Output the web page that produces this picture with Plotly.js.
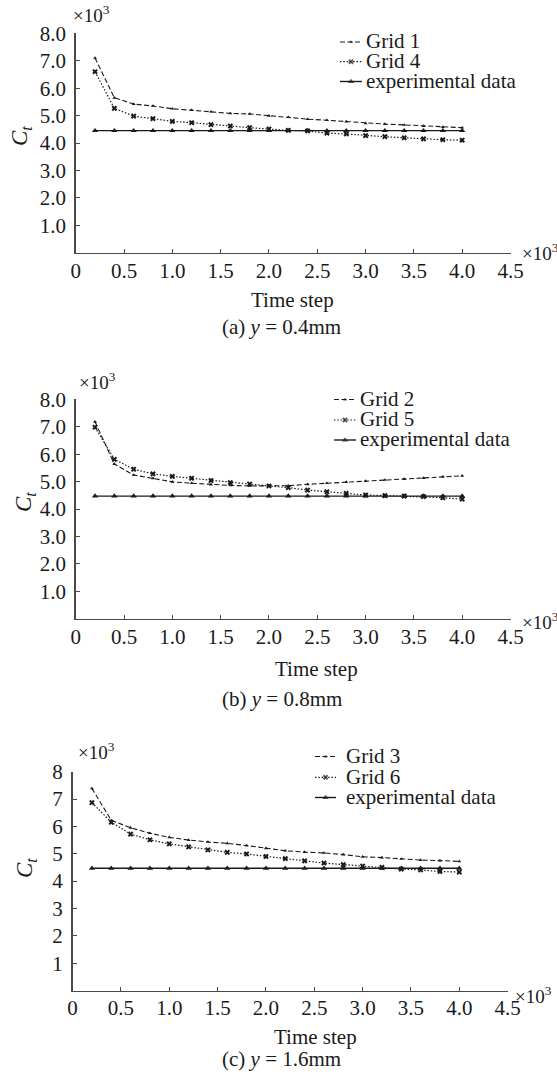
<!DOCTYPE html>
<html>
<head>
<meta charset="utf-8">
<script src="https://cdn.plot.ly/plotly-3.0.1.min.js"></script>
<style>html,body{margin:0;padding:0;background:#fff;}#chart{width:557px;height:1081px;}</style>
</head>
<body>
<div id="chart"></div>
<script>
// ---------------- data (x in units of 10^3 time steps, Ct in units of 10^3) ----------------
const timeSteps = [0.2,0.4,0.6,0.8,1.0,1.2,1.4,1.6,1.8,2.0,2.2,2.4,2.6,2.8,3.0,3.2,3.4,3.6,3.8,4.0];

const grid1 = [7.10,5.65,5.42,5.35,5.25,5.20,5.14,5.08,5.06,4.99,4.94,4.87,4.83,4.78,4.72,4.69,4.66,4.62,4.58,4.56];
const grid4 = [6.60,5.26,4.98,4.89,4.79,4.74,4.67,4.62,4.56,4.51,4.46,4.44,4.36,4.33,4.27,4.23,4.19,4.15,4.12,4.10];
const expA  = [4.45,4.45,4.45,4.45,4.45,4.45,4.45,4.45,4.45,4.45,4.45,4.45,4.45,4.45,4.45,4.45,4.45,4.45,4.45,4.45];

const grid2 = [7.18,5.64,5.24,5.12,4.99,4.94,4.89,4.86,4.84,4.84,4.85,4.90,4.94,4.98,5.02,5.06,5.09,5.13,5.18,5.21];
const grid5 = [6.98,5.81,5.45,5.28,5.19,5.12,5.04,4.96,4.91,4.84,4.78,4.69,4.63,4.57,4.51,4.49,4.47,4.45,4.41,4.36];
const expB  = [4.47,4.47,4.47,4.47,4.47,4.47,4.47,4.47,4.47,4.47,4.47,4.47,4.47,4.47,4.47,4.47,4.47,4.47,4.47,4.47];

const grid3 = [7.39,6.22,5.95,5.75,5.60,5.50,5.43,5.38,5.30,5.20,5.11,5.06,5.03,4.97,4.89,4.86,4.81,4.77,4.75,4.72];
const grid6 = [6.87,6.15,5.72,5.51,5.36,5.25,5.14,5.05,4.99,4.90,4.82,4.74,4.66,4.60,4.55,4.50,4.44,4.41,4.35,4.33];
const expC  = [4.47,4.47,4.47,4.47,4.47,4.47,4.47,4.47,4.47,4.47,4.47,4.47,4.47,4.47,4.47,4.47,4.47,4.47,4.47,4.47];

const xTickVals = [0,0.5,1.0,1.5,2.0,2.5,3.0,3.5,4.0,4.5];
const xTickText = ["0","0.5","1.0","1.5","2.0","2.5","3.0","3.5","4.0","4.5"];
const yTickVals = [1,2,3,4,5,6,7,8];
const yTickTextDec = ["1.0","2.0","3.0","4.0","5.0","6.0","7.0","8.0"];
const yTickTextInt = ["1","2","3","4","5","6","7","8"];

const seriesNamesA = ["Grid 1","Grid 4","experimental data"];
const seriesNamesB = ["Grid 2","Grid 5","experimental data"];
const seriesNamesC = ["Grid 3","Grid 6","experimental data"];
const captions = ["(a) <i>y</i> = 0.4mm","(b) <i>y</i> = 0.8mm","(c) <i>y</i> = 1.6mm"];
const xTitle = "Time step";
const yTitle = "<i>C</i><sub><i>t</i></sub>";
const expLabel = "×10<sup>3</sup>";

// ---------------- layout geometry (pixels) ----------------
const W = 557, H = 1081;
const FONT = "Liberation Serif, Times New Roman, serif";
const INK = "#1a1a1a", AXIS = "#4a4a4a";
const px = p => p / W;
const py = p => 1 - p / H;

const panels = [
  {data:[grid1,grid4,expA], names:seriesNamesA, yText:yTickTextDec,
   x0:75.7, x1:510.5, yTop:33.3, yBot:252.7,
   leg:{s0:340, s1:362, tx:363.5, rows:[42, 61.7, 81.5]},
   xTitle:[292,300], cap:[282,326.5], topExp:[71,14], rightExp:[519.5,252], yT:[21,136]},
  {data:[grid2,grid5,expB], names:seriesNamesB, yText:yTickTextDec,
   x0:75.7, x1:510.5, yTop:399.3, yBot:618.7,
   leg:{s0:334, s1:356, tx:357.5, rows:[399.5, 420, 440]},
   xTitle:[316,668.5], cap:[282,699], topExp:[77,381], rightExp:[520,621], yT:[25,502]},
  {data:[grid3,grid6,expC], names:seriesNamesC, yText:yTickTextInt,
   x0:72.6, x1:507.6, yTop:771.7, yBot:990.5,
   leg:{s0:315, s1:336, tx:344, rows:[756.5, 777.3, 797.5]},
   xTitle:[315.5,1037], cap:[282,1058.5], topExp:[76,751], rightExp:[512.5,995], yT:[26,868]}
];

const styles = [
  {dash:"5px,2.5px", width:1.1, symbol:"triangle-up", size:3.5},
  {dash:"1.5px,1.8px", width:1.2, symbol:"x", size:5},
  {dash:"solid", width:1.4, symbol:"triangle-up", size:5.5}
];

const traces = [];
const layout = {
  width: W, height: H,
  margin: {l:0, r:0, t:0, b:0},
  paper_bgcolor: "#fff", plot_bgcolor: "rgba(0,0,0,0)",
  showlegend: false,
  font: {family: FONT, size: 21, color: INK},
  annotations: [], shapes: []
};

panels.forEach((p, i) => {
  const k = i === 0 ? "" : String(i + 1);
  layout["xaxis" + k] = {
    domain: [px(p.x0), px(p.x1)], range: [0, 4.5], anchor: "y" + k,
    tickvals: xTickVals, ticktext: xTickText, ticks: "inside", ticklen: 4, tickwidth: 1, tickcolor: AXIS,
    showline: true, linecolor: AXIS, linewidth: 1.6, showgrid: false, zeroline: false,
    tickfont: {family: FONT, size: 21, color: INK}, ticklabelstandoff: -2, fixedrange: true
  };
  layout["yaxis" + k] = {
    domain: [py(p.yBot), py(p.yTop)], range: [0, 8], anchor: "x" + k,
    tickvals: yTickVals, ticktext: p.yText, ticks: "inside", ticklen: 4, tickwidth: 1, tickcolor: AXIS,
    showline: true, linecolor: AXIS, linewidth: 1.6, showgrid: false, zeroline: false,
    tickfont: {family: FONT, size: 21, color: INK}, ticklabelstandoff: 4, fixedrange: true
  };
  p.data.forEach((ys, j) => {
    const s = styles[j];
    traces.push({
      type: "scatter", mode: "lines+markers", x: timeSteps, y: ys,
      xaxis: "x" + k, yaxis: "y" + k, name: p.names[j],
      line: {color: INK, width: s.width, dash: s.dash},
      marker: {symbol: s.symbol, size: s.size, color: INK, line: {width: 0}},
      cliponaxis: false
    });
  });
  // legend (drawn manually to match row spacing)
  p.names.forEach((nm, j) => {
    const s = styles[j];
    const yy = p.leg.rows[j];
    traces.push({
      type: "scatter", mode: "lines+markers", xaxis: "x4", yaxis: "y4", hoverinfo: "skip",
      x: [p.leg.s0, (p.leg.s0 + p.leg.s1) / 2, p.leg.s1], y: [yy, yy, yy],
      line: {color: INK, width: s.width, dash: s.dash},
      marker: {symbol: s.symbol, size: [0, s.size, 0], color: INK, line: {width: 0}}
    });
    layout.annotations.push({xref: "paper", yref: "paper", x: px(p.leg.tx), y: py(yy - 0.8),
      xanchor: "left", yanchor: "middle", showarrow: false, text: nm,
      font: {family: FONT, size: 21, color: INK}});
  });
  layout.annotations.push(
    {xref:"paper", yref:"paper", x:px(p.xTitle[0]), y:py(p.xTitle[1]), xanchor:"center", yanchor:"middle",
     showarrow:false, text:xTitle, font:{family:FONT, size:21, color:INK}},
    {xref:"paper", yref:"paper", x:px(p.cap[0]), y:py(p.cap[1]), xanchor:"center", yanchor:"middle",
     showarrow:false, text:captions[i], font:{family:FONT, size:21, color:INK}},
    {xref:"paper", yref:"paper", x:px(p.topExp[0]), y:py(p.topExp[1]), xanchor:"left", yanchor:"middle",
     showarrow:false, text:expLabel, font:{family:FONT, size:19, color:INK}},
    {xref:"paper", yref:"paper", x:px(p.rightExp[0]), y:py(p.rightExp[1]), xanchor:"left", yanchor:"middle",
     showarrow:false, text:expLabel, font:{family:FONT, size:19, color:INK}},
    {xref:"paper", yref:"paper", x:px(p.yT[0]), y:py(p.yT[1]), xanchor:"center", yanchor:"middle",
     showarrow:false, text:yTitle, textangle:-90, font:{family:FONT, size:23, color:INK}}
  );
});

layout.xaxis4 = {domain:[0,1], range:[0,W], anchor:"y4", visible:false, fixedrange:true};
layout.yaxis4 = {domain:[0,1], range:[H,0], anchor:"x4", visible:false, fixedrange:true};

Plotly.newPlot("chart", traces, layout, {staticPlot: true, displayModeBar: false});
</script>
</body>
</html>
